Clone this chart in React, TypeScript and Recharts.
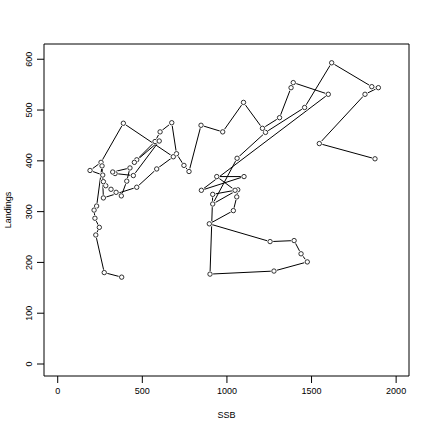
import React from "react";
import { LineChart, Line, XAxis, YAxis, ReferenceArea } from "recharts";

// SSB (x) and Landings (y), in time order
const ssb = [
  1875, 1546, 1816, 1895, 1856, 1619, 1459, 1228, 1060, 916,
  1064, 1058, 1038, 896, 1255, 1397, 1438, 1475, 1278, 900,
  916, 1048, 940, 1101, 849, 1599, 1392, 1379, 1311, 1210,
  1098, 975, 847, 776, 746, 702, 674, 605, 575, 467,
  453, 600, 447, 339, 325, 427, 408, 376, 345, 315,
  284, 270, 266, 191, 256, 388, 683, 585, 467, 270,
  262, 230, 215, 220, 246, 225, 275, 378,
];
const landings = [
  404, 434, 531, 544, 546, 593, 505, 456, 405, 315,
  343, 329, 302, 276, 241, 243, 217, 201, 183, 177,
  334, 342, 369, 369, 342, 531, 554, 544, 485, 464,
  515, 457, 470, 379, 391, 414, 475, 457, 438, 402,
  397, 439, 371, 375, 378, 386, 360, 331, 338, 344,
  351, 359, 372, 381, 397, 474, 408, 384, 348, 327,
  390, 311, 303, 287, 269, 254, 180, 171,
];
const xTicks = [0, 500, 1000, 1500, 2000];
const yTicks = [0, 100, 200, 300, 400, 500, 600];

const data = ssb.map((s, i) => ({ ssb: s, landings: landings[i] }));

const FONT = "'Liberation Sans', Arial, Helvetica, sans-serif";

const Dot = (props: any) => {
  const { cx, cy, index } = props;
  if (cx == null || cy == null) return null;
  return (
    <g key={`d${index}`}>
      <circle cx={cx} cy={cy} r={3.2} fill="#fff" stroke="none" />
      <circle cx={cx} cy={cy} r={2.2} fill="#fff" stroke="#000" strokeWidth={0.8} />
    </g>
  );
};

const XTick = (props: any) => {
  const { x, y, payload } = props;
  return (
    <text x={x} y={y} dy={9} textAnchor="middle" fontSize={9} fontFamily={FONT} fill="#000">
      {payload.value}
    </text>
  );
};

const YTick = (props: any) => {
  const { x, y, payload } = props;
  const bx = x - 3;
  return (
    <text x={bx} y={y} transform={`rotate(-90, ${bx}, ${y})`} textAnchor="middle" fontSize={9} fontFamily={FONT} fill="#000">
      {payload.value}
    </text>
  );
};

export default function App() {
  return (
    <div style={{ position: "absolute", left: 0, top: 0, width: 432, height: 432, background: "#fff" }}>
      <LineChart width={432} height={432} data={data} margin={{ top: 44, right: 23, bottom: 0, left: 0 }}>
        <XAxis
          type="number"
          dataKey="ssb"
          domain={[-81, 2076]}
          allowDataOverflow
          ticks={xTicks}
          tickSize={7}
          tickMargin={2}
          axisLine={false}
          tickLine={{ stroke: "#000" }}
          tick={<XTick />}
          height={56}
          interval={0}
          label={{ value: "SSB", position: "insideBottom", offset: 14, fontSize: 9, fontFamily: FONT, fill: "#000" }}
        />
        <YAxis
          type="number"
          dataKey="landings"
          domain={[-23.6, 630]}
          allowDataOverflow
          ticks={yTicks}
          tickSize={7}
          tickMargin={2}
          axisLine={false}
          tickLine={{ stroke: "#000" }}
          tick={<YTick />}
          width={44}
          interval={0}
          label={{ value: "Landings", angle: -90, position: "insideLeft", offset: 8, fontSize: 9, fontFamily: FONT, fill: "#000", style: { textAnchor: "middle" } }}
        />
        <ReferenceArea x1={-81} x2={2076} y1={-23.6} y2={630} fill="none" fillOpacity={0} stroke="#000" strokeWidth={1} ifOverflow="visible" />
        <Line
          type="linear"
          dataKey="landings"
          stroke="#000"
          strokeWidth={1}
          dot={<Dot />}
          activeDot={false}
          isAnimationActive={false}
        />
      </LineChart>
    </div>
  );
}
